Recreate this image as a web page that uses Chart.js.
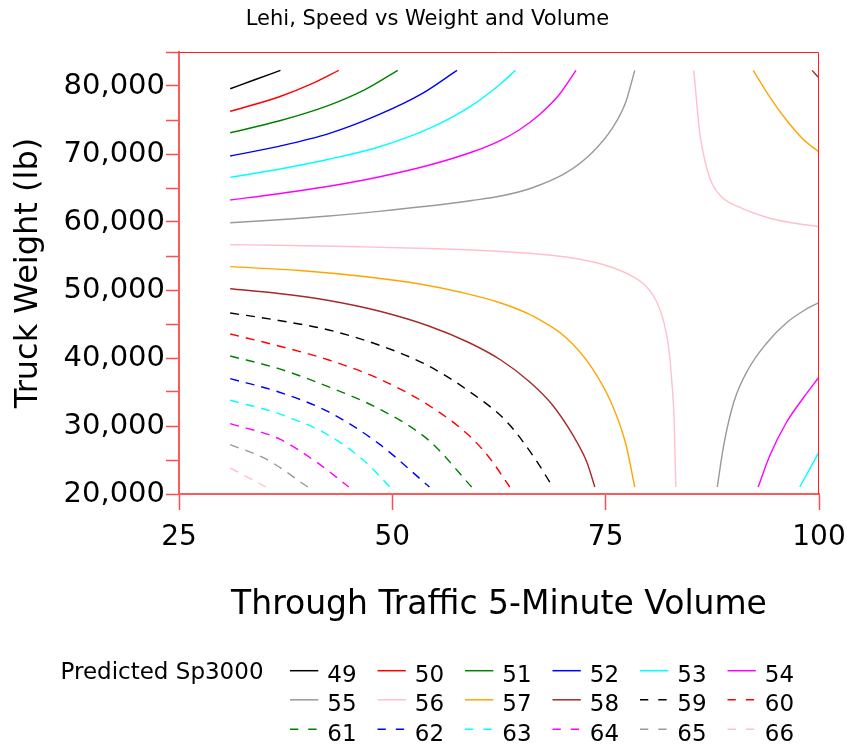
<!DOCTYPE html>
<html>
<head>
<meta charset="utf-8">
<title>Lehi, Speed vs Weight and Volume</title>
<script src="https://cdn.jsdelivr.net/npm/chart.js@4.4.1/dist/chart.umd.min.js"></script>
<style>
  html, body { margin: 0; padding: 0; background: #fff; }
  #wrap { position: relative; width: 847px; height: 747px; overflow: hidden;
          font-family: "DejaVu Sans", sans-serif; color: #000; background: #fff; }
  #plot { position: absolute; left: 0; top: 0; }
  .txt { position: absolute; white-space: nowrap; }
  #keys { position: absolute; left: 0; top: 0; pointer-events: none; }
</style>
</head>
<body>
<div id="wrap">
  <canvas id="plot" width="847" height="747"></canvas>
  <div id="title" class="txt">Lehi, Speed vs Weight and Volume</div>
  <svg id="keys" width="847" height="747"></svg>
  <div id="legend"></div>
</div>
<script>
// Predicted Sp3000 contour levels and their line styles
const levels = [49, 50, 51, 52, 53, 54, 55, 56, 57, 58, 59, 60, 61, 62, 63, 64, 65, 66];
const levelColors = ['#000000', '#ff0000', '#008000', '#0000ff', '#00ffff', '#ff00ff',
                     '#999999', '#ffc0cb', '#ffa500', '#a52a2a', '#000000', '#ff0000',
                     '#008000', '#0000ff', '#00ffff', '#ff00ff', '#999999', '#ffc0cb'];
const levelDashed = [false, false, false, false, false, false, false, false, false,
                     false, true, true, true, true, true, true, true, true];

// Contour paths as [through-traffic volume, truck weight (lb)]
const sp49 = [[31, 79600], [33.79, 80880], [36.89, 82300]];
const sp50 = [[31, 76280], [36.69, 78380], [40.59, 80340], [43.72, 82300]];
const sp51 = [[31, 73130], [36.69, 74850], [42.55, 77160], [46.85, 79520], [50.63, 82300]];
const sp52 = [[31, 69710], [36.69, 71130], [42.55, 72990], [48.41, 75780], [53.48, 78870], [57.58, 82300]];
const sp53a = [[31, 66570], [36.69, 67750], [42.55, 69220], [48.41, 71030], [54.27, 73720],
               [59.34, 77160], [62.70, 80340], [64.43, 82300]];
const sp53b = [[97.75, 21030], [100, 26180]];
const sp54a = [[31, 63240], [36.69, 64160], [42.55, 65250], [48.41, 66620], [54.27, 68340],
               [59.34, 70290], [62.70, 72020], [64.81, 73490], [67.16, 75690], [69.50, 78630], [71.53, 82300]];
const sp54b = [[92.87, 21030], [94.24, 25660], [96.11, 30370], [98.11, 34040], [100, 37210]];
const sp55a = [[31, 59900], [36.69, 60340], [42.55, 60880], [48.41, 61570], [54.27, 62350],
               [59.31, 63160], [62.71, 63820], [66.34, 65000], [70.33, 67210], [73.37, 70150],
               [75.72, 73680], [77.36, 77650], [78.41, 82300]];
const sp55b = [[88.08, 21030], [88.84, 27210], [90.02, 33530], [91.66, 38240], [93.88, 42210],
               [96.23, 45220], [98.34, 47060], [100, 48160]];
const sp56a = [[31, 56660], [36.69, 56570], [46.06, 56350], [54.27, 56100], [60.6, 55810],
               [66.11, 55400], [70.33, 54850], [74.67, 53750], [77.83, 52210], [79.82, 50440],
               [80.99, 48240], [81.81, 45290], [82.34, 41910], [82.71, 37250], [83.04, 30440], [83.22, 21030]];
const sp56b = [[85.33, 82300], [85.64, 77940], [86.03, 73050], [86.61, 69120], [87.43, 65740],
               [88.60, 63680], [90.60, 62210], [93.73, 60740], [96.57, 59930], [100, 59340]];
const sp57a = [[31, 53430], [39.15, 52870], [46.96, 51940], [53.21, 50880], [58.14, 49630],
               [62.71, 48090], [66.34, 46250], [70.33, 43020], [73.37, 38600], [75.72, 33240],
               [77.36, 27350], [78.41, 21030]];
const sp57b = [[92.29, 82300], [94.01, 78820], [96.00, 75290], [98.11, 72210], [100, 70290]];
const sp58a = [[31, 50190], [36.69, 49490], [42.55, 48460], [48.41, 46910], [54.27, 44710],
               [58.96, 42280], [62.71, 39710], [66.11, 36470], [68.81, 33020], [71.15, 28680],
               [72.79, 24710], [73.73, 21030]];
const sp58b = [[99.19, 82300], [100, 81180]];
const sp59 = [[31, 46620], [36.69, 45520], [42.55, 44120], [48.41, 41910], [54.03, 38970],
              [59.07, 35040], [63.41, 30630], [66.69, 25250], [68.8, 21030]];
const sp60 = [[31, 43530], [36.69, 41770], [42.55, 39710], [48.41, 36960], [54.27, 33040],
              [58.96, 28630], [61.42, 25250], [63.76, 21030]];
const sp61 = [[31, 40290], [36.69, 38430], [42.55, 35740], [48.41, 32540], [54.27, 27900], [59.3, 21030]];
const sp62 = [[31, 36960], [36.69, 35000], [42.55, 32060], [48.41, 27400], [54.35, 21030]];
const sp63 = [[31, 33780], [36.69, 31810], [42.55, 28630], [46.85, 24710], [49.7, 21030]];
const sp64 = [[31, 30340], [36.69, 28130], [41.37, 24460], [44.9, 21030]];
const sp65 = [[31, 27250], [35.13, 25190], [40.1, 21030]];
const sp66 = [[31, 23820], [35.2, 21030]];

// Each contour piece with the level it belongs to
const contourSegments = [
  [49, sp49], [50, sp50], [51, sp51], [52, sp52], [53, sp53a], [53, sp53b],
  [54, sp54a], [54, sp54b], [55, sp55a], [55, sp55b], [56, sp56a], [56, sp56b],
  [57, sp57a], [57, sp57b], [58, sp58a], [58, sp58b], [59, sp59], [60, sp60],
  [61, sp61], [62, sp62], [63, sp63], [64, sp64], [65, sp65], [66, sp66]
];

// Axis ticks
const volumeTicks = [25, 50, 75, 100];
const weightTicks = [20000, 25000, 30000, 35000, 40000, 45000, 50000, 55000,
                     60000, 65000, 70000, 75000, 80000, 85000];
const weightLabels = [20000, 30000, 40000, 50000, 60000, 70000, 80000];

const FONT = '"DejaVu Sans", sans-serif';
const AXIS_RED = '#ff5a5a';

const datasets = contourSegments.map(([lv, pts]) => {
  const i = levels.indexOf(lv);
  return {
    label: String(lv),
    data: pts.map(([v, w]) => ({ x: v, y: w })),
    showLine: true,
    borderColor: levelColors[i],
    backgroundColor: levelColors[i],
    borderWidth: 1.4,
    borderDash: levelDashed[i] ? [9, 7] : [],
    pointRadius: 0,
    pointHoverRadius: 0,
    cubicInterpolationMode: 'monotone',
    fill: false
  };
});

// Thin red edges closing the plot frame on top and right
const framePlugin = {
  id: 'frame',
  afterDraw(chart) {
    const { ctx, chartArea: a } = chart;
    ctx.save();
    ctx.strokeStyle = '#ff2020';
    ctx.lineWidth = 1;
    ctx.beginPath();
    ctx.moveTo(a.left, a.top + 0.5);
    ctx.lineTo(a.right - 0.5, a.top + 0.5);
    ctx.lineTo(a.right - 0.5, a.bottom);
    ctx.stroke();
    ctx.restore();
  }
};

new Chart(document.getElementById('plot'), {
  type: 'scatter',
  data: { datasets },
  options: {
    responsive: false,
    animation: false,
    devicePixelRatio: 1,
    layout: { padding: { top: 52, right: 28, bottom: 0, left: 0 } },
    plugins: {
      legend: { display: false },
      tooltip: { enabled: false },
      title: { display: false }
    },
    scales: {
      x: {
        type: 'linear',
        min: 25,
        max: 100,
        afterBuildTicks: s => { s.ticks = volumeTicks.map(v => ({ value: v })); },
        afterFit: s => { s.height = 253; s.paddingLeft = 0; s.paddingRight = 0; },
        ticks: {
          autoSkip: false,
          maxRotation: 0,
          padding: 11,
          color: '#000',
          font: { family: FONT, size: 28 },
          callback: v => String(v)
        },
        grid: {
          drawOnChartArea: false,
          drawTicks: true,
          tickLength: 16,
          tickColor: '#ff4d4d',
          tickWidth: 1.5
        },
        border: { display: true, color: AXIS_RED, width: 2 },
        title: {
          display: true,
          text: 'Through Traffic 5-Minute Volume',
          color: '#000',
          font: { family: FONT, size: 33 },
          padding: { top: 0, bottom: 122 }
        }
      },
      y: {
        type: 'linear',
        min: 20000,
        max: 85000,
        afterBuildTicks: s => { s.ticks = weightTicks.map(v => ({ value: v })); },
        afterFit: s => { s.width = 179; s.paddingTop = 0; s.paddingBottom = 0; },
        ticks: {
          autoSkip: false,
          padding: 1,
          color: '#000',
          font: { family: FONT, size: 29 },
          callback: v => weightLabels.includes(v) ? v.toLocaleString('en-US') : ''
        },
        grid: {
          drawOnChartArea: false,
          drawTicks: true,
          tickLength: 13,
          tickColor: '#ff4d4d',
          tickWidth: 1.5
        },
        border: { display: true, color: AXIS_RED, width: 2 },
        title: {
          display: true,
          text: 'Truck Weight (lb)',
          color: '#000',
          font: { family: FONT, size: 32 },
          padding: { top: 9, bottom: 0 }
        }
      }
    }
  },
  plugins: [framePlugin]
});

// Chart heading
const CAP = 0.4815; // cap-centre offset of a DejaVu Sans line box, in em
const title = document.getElementById('title');
title.style.fontSize = '21px';
title.style.lineHeight = '21px';
title.style.left = '0px';
title.style.width = '855px';
title.style.textAlign = 'center';
title.style.top = (17.8 - CAP * 21) + 'px';

// Legend: heading on the left, then 3 rows of 6 level keys
const legend = document.getElementById('legend');
const keys = document.getElementById('keys');
const SVGNS = 'http://www.w3.org/2000/svg';
const LEG = 23;

const head = document.createElement('div');
head.className = 'txt';
head.textContent = 'Predicted Sp3000';
head.style.fontSize = LEG + 'px';
head.style.lineHeight = LEG + 'px';
head.style.left = '60.5px';
head.style.top = (671.5 - CAP * LEG) + 'px';
legend.appendChild(head);

const rowText = [673.7, 703.2, 733.0];
const rowLine = [670.7, 699.8, 729.2];
levels.forEach((lv, i) => {
  const r = Math.floor(i / 6), c = i % 6;
  const x0 = 290 + 87.5 * c;
  const ln = document.createElementNS(SVGNS, 'line');
  ln.setAttribute('x1', x0);
  ln.setAttribute('x2', x0 + 28.3);
  ln.setAttribute('y1', rowLine[r]);
  ln.setAttribute('y2', rowLine[r]);
  ln.setAttribute('stroke', levelColors[i]);
  ln.setAttribute('stroke-width', '1.5');
  if (levelDashed[i]) ln.setAttribute('stroke-dasharray', '8.3 10');
  keys.appendChild(ln);

  const t = document.createElement('div');
  t.className = 'txt';
  t.textContent = String(lv);
  t.style.fontSize = LEG + 'px';
  t.style.lineHeight = LEG + 'px';
  t.style.left = (x0 + 37.3) + 'px';
  t.style.top = (rowText[r] - CAP * LEG) + 'px';
  legend.appendChild(t);
});
</script>
</body>
</html>
